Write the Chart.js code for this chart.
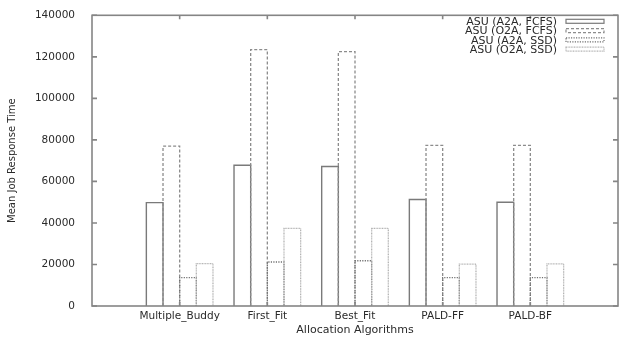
<!DOCTYPE html>
<html><head><meta charset="utf-8">
<script src="https://cdn.jsdelivr.net/npm/chart.js@4.4.0/dist/chart.umd.min.js"></script>
<style>html,body{margin:0;padding:0;background:#fff;}#wrap{width:625px;height:337px;}</style>
</head><body><div id="wrap"><canvas id="c" width="625" height="337"></canvas></div>
<script>
const categories = ['Multiple_Buddy', 'First_Fit', 'Best_Fit', 'PALD-FF', 'PALD-BF'];
const seriesNames = ['ASU (A2A, FCFS)', 'ASU (O2A, FCFS)', 'ASU (A2A, SSD)', 'ASU (O2A, SSD)'];
const a2aFcfs = [49800, 67800, 67200, 51300, 50000];
const o2aFcfs = [77000, 123500, 122500, 77400, 77400];
const a2aSsd  = [13700, 21200, 21800, 13700, 13700];
const o2aSsd  = [20400, 37400, 37400, 20200, 20300];
const yTickValues = [0, 20000, 40000, 60000, 80000, 100000, 120000, 140000];
const xTitle = 'Allocation Algorithms';
const yTitle = 'Mean Job Response Time';

const seriesValues = [a2aFcfs, o2aFcfs, a2aSsd, o2aSsd];
const seriesStyles = [
  {color: '#7a7a7a', width: 1.4, dash: []},
  {color: '#8c8c8c', width: 1.3, dash: [3, 2]},
  {color: '#707070', width: 1.3, dash: [1.2, 1.3]},
  {color: '#b4b4b4', width: 1.3, dash: [1, 0.6]}
];
const FONT = 'DejaVu Sans';
const TXT = '#2a2a2a';
Chart.defaults.font.family = FONT;
Chart.defaults.color = TXT;

const datasets = seriesValues.map((vals, k) => ({
  label: seriesNames[k],
  data: vals.map((v, i) => ({x: i + 1, y: v})),
  backgroundColor: 'rgba(0,0,0,0)',
  borderWidth: 0,
  categoryPercentage: 0.76,
  barPercentage: 1
}));

const gpPlugin = {
  id: 'gp',
  afterDatasetsDraw(chart) {
    const ctx = chart.ctx;
    chart.data.datasets.forEach((ds, k) => {
      const meta = chart.getDatasetMeta(k);
      const st = seriesStyles[k];
      ctx.save();
      ctx.strokeStyle = st.color; ctx.lineWidth = st.width; ctx.setLineDash(st.dash);
      meta.data.forEach(bar => {
        const p = bar.getProps(['x', 'y', 'base', 'width'], true);
        const l = p.x - p.width / 2, r = p.x + p.width / 2;
        ctx.beginPath();
        ctx.moveTo(l, p.base); ctx.lineTo(l, p.y); ctx.lineTo(r, p.y); ctx.lineTo(r, p.base);
        ctx.stroke();
      });
      ctx.restore();
    });
  },
  afterDraw(chart) {
    const ctx = chart.ctx, ca = chart.chartArea;
    const xs = chart.scales.x, ys = chart.scales.y;
    ctx.save();
    ctx.strokeStyle = '#858585'; ctx.lineWidth = 1.6; ctx.setLineDash([]);
    ctx.strokeRect(ca.left, ca.top, ca.right - ca.left, ca.bottom - ca.top);
    ctx.beginPath();
    yTickValues.forEach(v => {
      const y = ys.getPixelForValue(v);
      ctx.moveTo(ca.left, y); ctx.lineTo(ca.left + 5, y);
      ctx.moveTo(ca.right, y); ctx.lineTo(ca.right - 5, y);
    });
    categories.forEach((c, i) => {
      const x = xs.getPixelForValue(i + 1);
      ctx.moveTo(x, ca.top); ctx.lineTo(x, ca.top + 4);
      ctx.moveTo(x, ca.bottom); ctx.lineTo(x, ca.bottom - 4);
    });
    ctx.stroke();
    // legend
    ctx.font = '11px "' + FONT + '"';
    ctx.fillStyle = TXT; ctx.textAlign = 'right'; ctx.textBaseline = 'alphabetic';
    chart.data.datasets.forEach((ds, k) => {
      const base = ca.top + 9.8 + k * 9.3;
      const cy = ca.top + 6 + k * 9.3;
      ctx.fillText(ds.label, ca.right - 61, base);
      const st = seriesStyles[k];
      ctx.save();
      ctx.strokeStyle = st.color; ctx.lineWidth = 1.2; ctx.setLineDash(st.dash);
      ctx.strokeRect(ca.right - 52, cy - 2, 38, 4);
      ctx.restore();
    });
    ctx.restore();
  }
};

new Chart(document.getElementById('c'), {
  type: 'bar',
  data: {datasets},
  options: {
    responsive: false,
    animation: false,
    layout: {padding: {top: 15, right: 7, bottom: 0, left: 0}},
    plugins: {legend: {display: false}, tooltip: {enabled: false}},
    scales: {
      x: {
        type: 'linear', min: 0, max: 6, offset: false,
        grid: {display: false, offset: false},
        border: {display: false},
        ticks: {stepSize: 1, autoSkip: false, maxRotation: 0, padding: -4.5,
          font: {size: 10.5}, color: TXT,
          callback: v => categories[v - 1] || ''},
        title: {display: true, text: xTitle, font: {size: 11}, color: TXT, padding: {top: 0, bottom: 0}},
        afterFit: s => { s.height = 31; }
      },
      y: {
        min: 0, max: 140000,
        afterBuildTicks: s => { s.ticks = yTickValues.map(v => ({value: v})); },
        grid: {display: false},
        border: {display: false},
        ticks: {padding: 9, font: {size: 10.5}, color: TXT, callback: v => String(v)},
        title: {display: true, text: yTitle, font: {size: 10}, color: TXT, padding: {top: 6, bottom: 0}},
        afterFit: s => { s.width = 92; }
      }
    }
  },
  plugins: [gpPlugin]
});
</script>
</body></html>
